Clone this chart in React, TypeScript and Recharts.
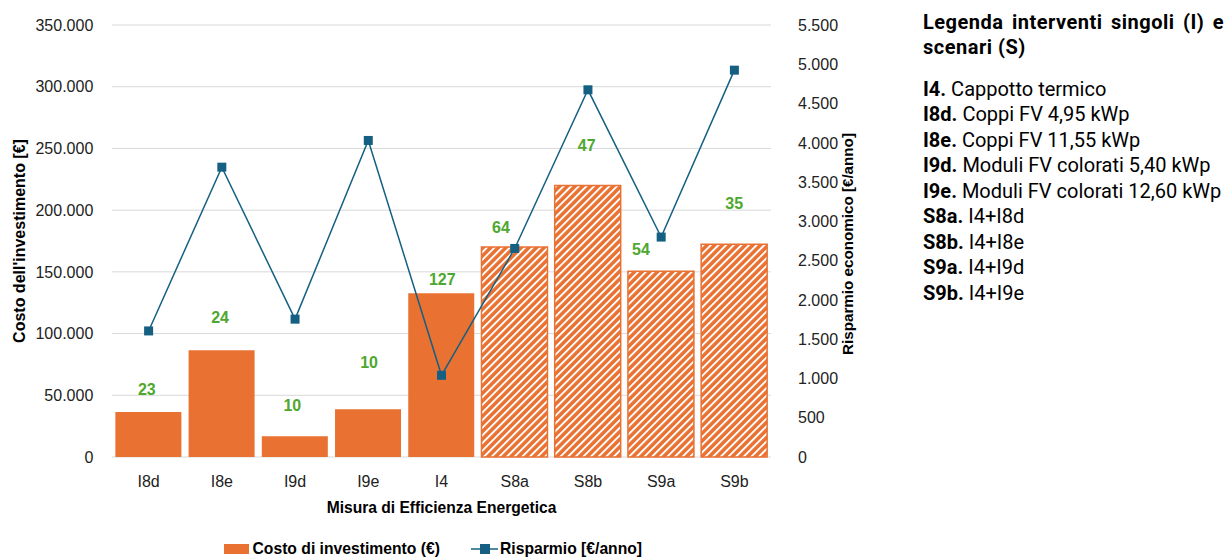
import React from 'react';
import {
  ComposedChart,
  Bar,
  Line,
  XAxis,
  YAxis,
  CartesianGrid,
  Legend,
  Cell,
  LabelList,
  Label,
} from 'recharts';

// ---- data ----
const measures = ['I8d', 'I8e', 'I9d', 'I9e', 'I4', 'S8a', 'S8b', 'S9a', 'S9b'];
const investmentCost = [36500, 86500, 16800, 38600, 132700, 170200, 219900, 150500, 172400];
const annualSaving = [1605, 3690, 1755, 4030, 1040, 2655, 4675, 2800, 4925];
const paybackYears = [23, 24, 10, 10, 127, 64, 47, 54, 35];

const costTicks = [0, 50000, 100000, 150000, 200000, 250000, 300000, 350000];
const savingTicks = [0, 500, 1000, 1500, 2000, 2500, 3000, 3500, 4000, 4500, 5000, 5500];

const legendCodes = ['I4', 'I8d', 'I8e', 'I9d', 'I9e', 'S8a', 'S8b', 'S9a', 'S9b'];
const legendDescriptions = [
  'Cappotto termico',
  'Coppi FV 4,95 kWp',
  'Coppi FV 11,55 kWp',
  'Moduli FV colorati 5,40 kWp',
  'Moduli FV colorati 12,60 kWp',
  'I4+I8d',
  'I4+I8e',
  'I4+I9d',
  'I4+I9e',
];

// ---- styling ----
const FONT = '"Liberation Sans", Arial, sans-serif';
const ORANGE = '#E97132';
const BLUE = '#156082';
const GREEN = '#4EA72E';
const GRID = '#D9D9D9';
const TEXT = '#222222';

// payback labels are nudged off the bar tops so they stay clear of the line
const labelNudge: [number, number][] = [
  [-1.5, -23],
  [-1.5, -33],
  [-2.5, -31],
  [1, -47],
  [1, -14],
  [-13.5, -20],
  [-1, -40],
  [-20, -22],
  [0, -41],
];

const rows = measures.map((m, i) => ({
  measure: m,
  cost: investmentCost[i],
  saving: annualSaving[i],
  payback: paybackYears[i],
}));

const fmt = (v: number) => String(v).replace(/\B(?=(\d{3})+(?!\d))/g, '.');

const CategoryTick = (props: any) => {
  const { x, y, payload } = props;
  return (
    <text x={x} y={y + 30.4} textAnchor="middle" fontSize={16} fontFamily={FONT} fill={TEXT}>
      {payload.value}
    </text>
  );
};

const CostTick = (props: any) => {
  const { y, payload } = props;
  return (
    <text x={93.3} y={y + 5.7} textAnchor="end" fontSize={16} fontFamily={FONT} fill={TEXT}>
      {fmt(payload.value)}
    </text>
  );
};

const SavingTick = (props: any) => {
  const { y, payload } = props;
  return (
    <text x={798} y={y + 5.7} textAnchor="start" fontSize={16} fontFamily={FONT} fill={TEXT}>
      {fmt(payload.value)}
    </text>
  );
};

const SquareDot = (props: any) => {
  const { cx, cy, index } = props;
  if (cx == null || cy == null) return null;
  return <rect key={`dot-${index}`} x={cx - 4.5} y={cy - 4.5} width={9} height={9} fill={BLUE} />;
};

const PaybackLabel = (props: any) => {
  const { x, y, width, index, value } = props;
  const [dx, dy] = labelNudge[index] || [0, -20];
  return (
    <text
      x={x + width / 2 + dx}
      y={y + dy + 5.7}
      textAnchor="middle"
      fontSize={16}
      fontWeight="bold"
      fontFamily={FONT}
      fill={GREEN}
    >
      {value}
    </text>
  );
};

const XTitle = (props: any) => {
  const { viewBox } = props;
  return (
    <text
      x={viewBox.x + viewBox.width / 2}
      y={viewBox.y + 55.6}
      textAnchor="middle"
      fontSize={15.6}
      fontWeight="bold"
      fontFamily={FONT}
      fill="#000"
    >
      Misura di Efficienza Energetica
    </text>
  );
};

const CostTitle = (props: any) => {
  const { viewBox } = props;
  const bx = viewBox.x + 24.7;
  const cy = viewBox.y + viewBox.height / 2;
  return (
    <text
      x={bx}
      y={cy}
      transform={`rotate(-90, ${bx}, ${cy})`}
      textAnchor="middle"
      fontSize={16}
      fontWeight="bold"
      fontFamily={FONT}
      fill="#000"
    >
      Costo dell'investimento [€]
    </text>
  );
};

const SavingTitle = (props: any) => {
  const { viewBox } = props;
  const bx = viewBox.x + 81.7;
  const cy = viewBox.y + viewBox.height / 2 + 3;
  return (
    <text
      x={bx}
      y={cy}
      transform={`rotate(-90, ${bx}, ${cy})`}
      textAnchor="middle"
      fontSize={15.2}
      fontWeight="bold"
      fontFamily={FONT}
      fill="#000"
    >
      Risparmio economico [€/anno]
    </text>
  );
};

const BottomLegend = () => (
  <div
    style={{
      position: 'relative',
      height: 18,
      fontFamily: FONT,
      fontWeight: 'bold',
      fontSize: 15.7,
      color: '#000',
    }}
  >
    <div style={{ position: 'absolute', left: 224, top: 4, width: 25, height: 10, background: ORANGE }} />
    <span style={{ position: 'absolute', left: 252.5, top: 0, lineHeight: '18px', whiteSpace: 'nowrap' }}>
      Costo di investimento (€)
    </span>
    <svg style={{ position: 'absolute', left: 471, top: 0 }} width={28} height={18}>
      <line x1={0} y1={9} x2={27} y2={9} stroke={BLUE} strokeWidth={1.5} />
      <rect x={9} y={4} width={10} height={10} fill={BLUE} />
    </svg>
    <span style={{ position: 'absolute', left: 500, top: 0, lineHeight: '18px', whiteSpace: 'nowrap' }}>
      Risparmio [€/anno]
    </span>
  </div>
);

export default function App() {
  return (
    <div
      style={{
        position: 'absolute',
        left: 0,
        top: 0,
        width: 1224,
        height: 558,
        background: '#fff',
        fontFamily: FONT,
        overflow: 'hidden',
      }}
    >
      <ComposedChart
        width={900}
        height={558}
        data={rows}
        margin={{ top: 25, right: 0, bottom: 0, left: 0 }}
        barCategoryGap="4.6%"
      >
        <defs>
          <pattern
            id="scenarioHatch"
            patternUnits="userSpaceOnUse"
            width={5.4}
            height={5.4}
            patternTransform="rotate(45)"
          >
            <rect x={0} y={0} width={5.4} height={5.4} fill={ORANGE} />
            <rect x={0} y={0} width={1.9} height={5.4} fill="#ffffff" />
          </pattern>
        </defs>
        <CartesianGrid yAxisId="left" vertical={false} stroke={GRID} strokeWidth={1} />
        <XAxis
          dataKey="measure"
          height={83}
          axisLine={false}
          tickLine={false}
          tickSize={0}
          tickMargin={0}
          interval={0}
          tick={<CategoryTick />}
        >
          <Label content={<XTitle />} />
        </XAxis>
        <YAxis
          yAxisId="left"
          orientation="left"
          width={112}
          domain={[0, 350000]}
          ticks={costTicks}
          axisLine={false}
          tickLine={false}
          tick={<CostTick />}
        >
          <Label content={<CostTitle />} />
        </YAxis>
        <YAxis
          yAxisId="right"
          orientation="right"
          width={129}
          domain={[0, 5500]}
          ticks={savingTicks}
          axisLine={false}
          tickLine={false}
          tick={<SavingTick />}
        >
          <Label content={<SavingTitle />} />
        </YAxis>
        <Legend verticalAlign="bottom" height={18} content={<BottomLegend />} />
        <Bar yAxisId="left" dataKey="cost" name="Costo di investimento (€)" isAnimationActive={false}>
          {rows.map((r) => (
            <Cell
              key={r.measure}
              fill={r.measure.startsWith('S') ? 'url(#scenarioHatch)' : ORANGE}
              stroke={r.measure.startsWith('S') ? ORANGE : 'none'}
              strokeWidth={r.measure.startsWith('S') ? 1.5 : 0}
            />
          ))}
          <LabelList dataKey="payback" content={<PaybackLabel />} />
        </Bar>
        <Line
          yAxisId="right"
          type="linear"
          dataKey="saving"
          name="Risparmio [€/anno]"
          stroke={BLUE}
          strokeWidth={1.5}
          dot={<SquareDot />}
          activeDot={false}
          isAnimationActive={false}
        />
      </ComposedChart>

      <div style={{ position: 'absolute', left: 923, top: 10, width: 301, fontFamily: 'Roboto', color: '#000' }}>
        <div
          style={{
            fontWeight: 700,
            fontSize: 20,
            lineHeight: '25px',
            textAlign: 'justify',
            letterSpacing: 0.5,
          }}
        >
          Legenda interventi singoli (I) e scenari (S)
        </div>
        <div style={{ marginTop: 16.5, fontSize: 20, lineHeight: '25.5px' }}>
          {legendCodes.map((code, i) => (
            <div key={code} style={{ whiteSpace: 'nowrap' }}>
              <b>{code}.</b> {legendDescriptions[i]}
            </div>
          ))}
        </div>
      </div>
    </div>
  );
}
